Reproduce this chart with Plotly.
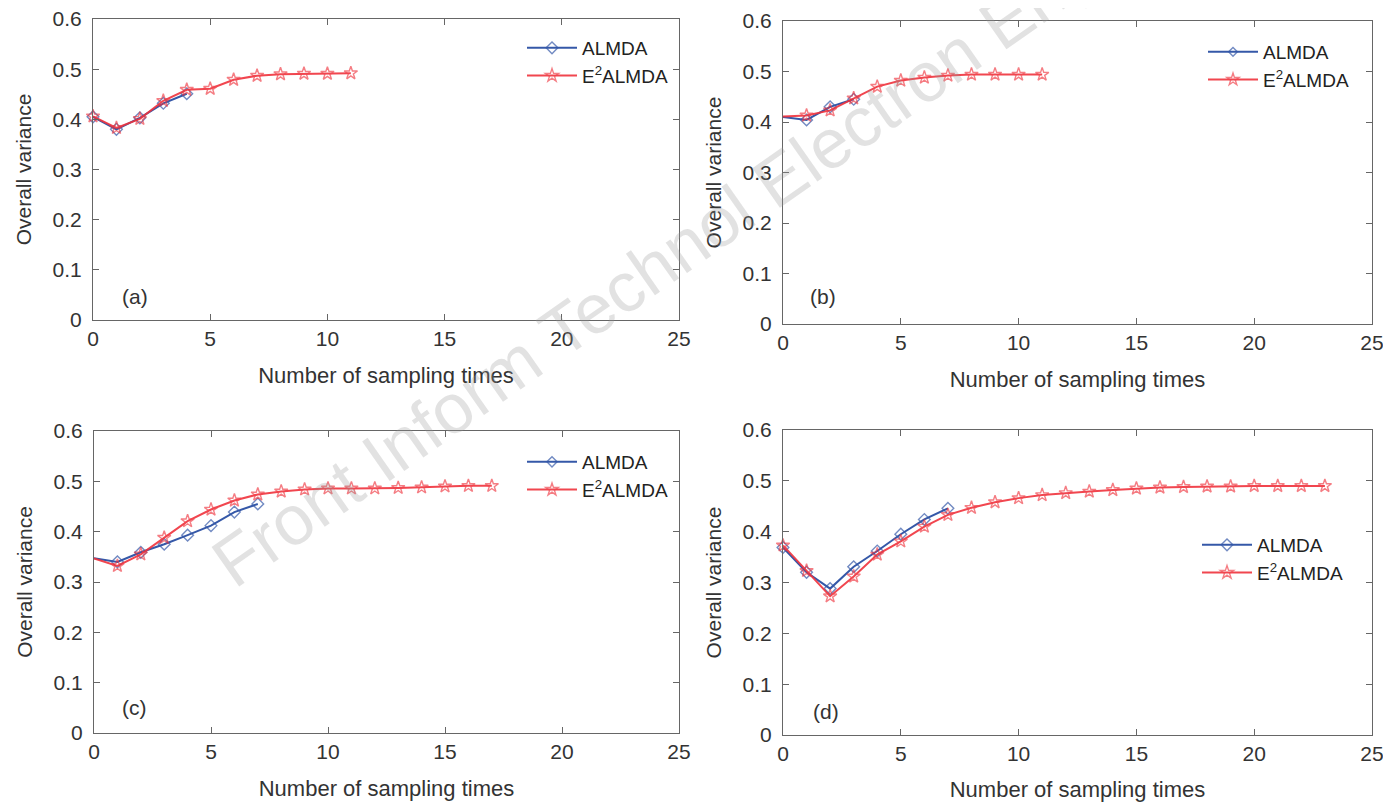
import plotly.graph_objects as go

# ---- data ----
a_x_almda = [0, 1, 2, 3, 4]
a_almda = [0.405, 0.380, 0.403, 0.432, 0.451]
a_x_e2 = list(range(12))
a_e2 = [0.406, 0.383, 0.401, 0.437, 0.459, 0.461, 0.479, 0.487, 0.490, 0.491, 0.491, 0.492]

b_x_almda = [0, 1, 2, 3]
b_almda = [0.410, 0.404, 0.430, 0.445]
b_x_e2 = list(range(12))
b_e2 = [0.411, 0.413, 0.423, 0.447, 0.470, 0.482, 0.488, 0.492, 0.494, 0.494, 0.494, 0.494]

c_x_almda = [0, 1, 2, 3, 4, 5, 6, 7]
c_almda = [0.347, 0.340, 0.359, 0.375, 0.393, 0.412, 0.439, 0.455]
c_x_e2 = list(range(18))
c_e2 = [0.347, 0.332, 0.355, 0.388, 0.421, 0.444, 0.462, 0.474, 0.480, 0.484, 0.486,
        0.486, 0.486, 0.487, 0.488, 0.490, 0.491, 0.491]

d_x_almda = [0, 1, 2, 3, 4, 5, 6, 7]
d_almda = [0.369, 0.320, 0.288, 0.331, 0.362, 0.395, 0.424, 0.446]
d_x_e2 = list(range(24))
d_e2 = [0.373, 0.323, 0.273, 0.312, 0.355, 0.381, 0.410, 0.433, 0.447, 0.458, 0.466,
        0.472, 0.476, 0.479, 0.482, 0.485, 0.487, 0.488, 0.489, 0.489, 0.490, 0.490,
        0.490, 0.490]

x_ticks = [0, 5, 10, 15, 20, 25]
y_ticks = [0, 0.1, 0.2, 0.3, 0.4, 0.5, 0.6]
y_tick_labels = ["0", "0.1", "0.2", "0.3", "0.4", "0.5", "0.6"]
panel_labels = ["(a)", "(b)", "(c)", "(d)"]
x_title = "Number of sampling times"
y_title = "Overall variance"
names = ["ALMDA", "E<sup>2</sup>ALMDA"]

BLUE = "#3558a8"
RED = "#f0323c"
FONT = "Liberation Sans, Arial, sans-serif"
TXT = "#333333"

# the page body has an 8 px margin, so the figure is drawn 8 px in from the corner
OFF = 8
W, H = 1391 - OFF, 802 - OFF


def fx(px):
    return (px - OFF) / W


def fy(py):
    return 1 - (py - OFF) / H


# axis boxes in page pixels: (left, right, top, bottom)
boxes = [(93, 679, 19, 320), (783, 1372, 21, 324), (94, 679, 431, 733), (783, 1372, 430, 735)]
legend_pos = [(522, 29), (1203, 33), (522, 443), (1197, 526)]
label_pos = [(135, 297), (823, 296), (134, 707), (826, 711)]
skip_first = [False, True, True, False]

panels = [
    (a_x_almda, a_almda, a_x_e2, a_e2),
    (b_x_almda, b_almda, b_x_e2, b_e2),
    (c_x_almda, c_almda, c_x_e2, c_e2),
    (d_x_almda, d_almda, d_x_e2, d_e2),
]

fig = go.Figure()
layout = dict(width=W, height=H, margin=dict(l=0, r=0, t=0, b=0, autoexpand=False),
              paper_bgcolor="white", plot_bgcolor="white",
              font=dict(family=FONT, color=TXT), annotations=[])

for i, (xb, yb, xr, yr) in enumerate(panels):
    n = i + 1
    xa = "x" if n == 1 else f"x{n}"
    ya = "y" if n == 1 else f"y{n}"
    lg = "legend" if n == 1 else f"legend{n}"
    l, r, t, b = boxes[i]
    sb = [0 if (skip_first[i] and k == 0) else 9 for k in range(len(xb))]
    sr = [0 if (skip_first[i] and k == 0) else 10 for k in range(len(xr))]
    fig.add_trace(go.Scatter(x=xb, y=yb, mode="lines+markers", name=names[0],
                             xaxis=xa, yaxis=ya, legend=lg, cliponaxis=False,
                             line=dict(color=BLUE, width=2),
                             marker=dict(symbol="diamond-open", size=sb, color=BLUE,
                                         line=dict(width=1.4, color=BLUE))))
    fig.add_trace(go.Scatter(x=xr, y=yr, mode="lines+markers", name=names[1],
                             xaxis=xa, yaxis=ya, legend=lg, cliponaxis=False,
                             opacity=0.9,
                             line=dict(color=RED, width=2),
                             marker=dict(symbol="star-open", size=sr, color=RED,
                                         line=dict(width=1.4, color=RED))))
    axcommon = dict(showgrid=False, zeroline=False, showline=True, linecolor="#666666",
                    linewidth=1.2, mirror="ticks", ticks="inside", ticklen=6,
                    tickcolor="#666666", automargin=False, ticklabeloverflow="allow",
                    tickfont=dict(size=21, family=FONT, color=TXT))
    layout["xaxis" if n == 1 else f"xaxis{n}"] = dict(
        axcommon, domain=[fx(l), fx(r)], range=[0, 25], tickvals=x_ticks,
        anchor=ya, title=dict(text=x_title, font=dict(size=22, family=FONT, color=TXT),
                              standoff=18))
    layout["yaxis" if n == 1 else f"yaxis{n}"] = dict(
        axcommon, domain=[fy(b), fy(t)], range=[0, 0.6], tickvals=y_ticks,
        ticktext=y_tick_labels, anchor=xa, ticklabelstandoff=6,
        title=dict(text=y_title, font=dict(size=21, family=FONT, color=TXT), standoff=15))
    lx, ly = legend_pos[i]
    layout[lg] = dict(x=fx(lx), y=fy(ly), xanchor="left", yanchor="top",
                      bgcolor="rgba(0,0,0,0)", borderwidth=0, itemwidth=50,
                      tracegroupgap=0, font=dict(size=19, family=FONT, color="#222222"))
    px, py = label_pos[i]
    layout["annotations"].append(dict(text=panel_labels[i], x=fx(px), y=fy(py),
                                      xref="paper", yref="paper", showarrow=False,
                                      xanchor="center", yanchor="middle",
                                      font=dict(size=21, family=FONT, color=TXT)))

# watermark
layout["annotations"].append(dict(text="Front Inform Technol Electron Eng",
                                  x=fx(655), y=fy(266), xref="paper", yref="paper",
                                  xanchor="center", yanchor="middle",
                                  showarrow=False, textangle=-35,
                                  font=dict(size=70, family=FONT, color="rgba(150,150,150,0.28)")))

fig.update_layout(**layout)
fig.write_html("out.html")
